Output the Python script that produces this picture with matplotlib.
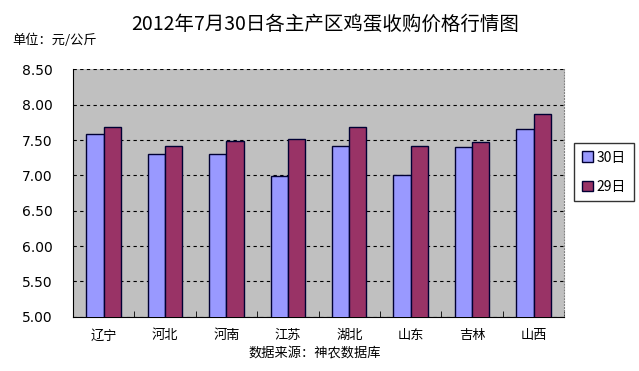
import numpy as np
import matplotlib
matplotlib.use("Agg")
import matplotlib.pyplot as plt

plt.rcParams['font.family'] = ['Noto Sans CJK SC', 'DejaVu Sans']

# data
regions = ['辽宁', '河北', '河南', '江苏', '湖北', '山东', '吉林', '山西']
price_30 = [7.58, 7.30, 7.30, 6.99, 7.42, 7.00, 7.40, 7.66]
price_29 = [7.68, 7.41, 7.49, 7.52, 7.68, 7.41, 7.47, 7.87]
yticks = [5.00, 5.50, 6.00, 6.50, 7.00, 7.50, 8.00, 8.50]

fig = plt.figure(figsize=(6.39, 3.71), dpi=100)
ax = fig.add_axes([0.114, 0.146, 0.769, 0.667])
ax.set_facecolor('#C0C0C0')

x = np.arange(len(regions))
w = 0.28
ax.bar(x - w / 2, price_30, w, color='#9999FF', edgecolor='#000033',
       linewidth=1, label='30日', zorder=3)
ax.bar(x + w / 2, price_29, w, color='#993366', edgecolor='#000033',
       linewidth=1, label='29日', zorder=3)

ax.set_ylim(5.0, 8.5)
ax.set_xlim(-0.5, len(regions) - 0.5)
ax.set_yticks(yticks)
ax.set_yticklabels([f'{v:.2f}' for v in yticks], fontsize=10, family='DejaVu Sans')
ax.yaxis.grid(True, linestyle=(0, (3, 3)), color='black', linewidth=0.8, zorder=1)
ax.tick_params(axis='y', length=0, pad=14.5)

ax.set_xticks(x)
ax.set_xticklabels(regions, fontsize=9.5)
ax.set_xticks(np.arange(-0.5, len(regions)), minor=True)
ax.tick_params(axis='x', which='major', length=0, pad=9)
ax.tick_params(axis='x', which='minor', direction='in', length=4, color='black')

ax.spines['left'].set_color('black')
ax.spines['bottom'].set_color('black')
ax.spines['top'].set_visible(False)
ax.spines['right'].set_linestyle(':')
ax.spines['right'].set_color('#808080')

leg = fig.legend(loc='center', bbox_to_anchor=(0.945, 0.536), fontsize=10,
                 frameon=True, fancybox=False, edgecolor='black', handlelength=0.8,
                 handleheight=0.8, handletextpad=0.3, borderpad=0.55, labelspacing=1.1,
                 borderaxespad=0)
leg.get_frame().set_linewidth(1)

fig.text(0.509, 0.935, '2012年7月30日各主产区鸡蛋收购价格行情图', ha='center', va='center',
         fontsize=14)
fig.text(0.019, 0.892, '单位：元/公斤', ha='left', va='center', fontsize=9.5)
fig.text(0.492, 0.048, '数据来源：神农数据库', ha='center', va='center', fontsize=9.5)

fig.savefig('out.png', dpi=100)
